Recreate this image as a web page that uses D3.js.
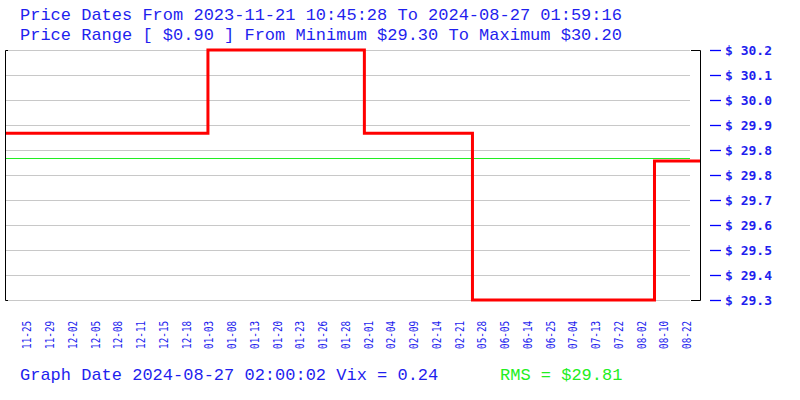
<!DOCTYPE html>
<html>
<head>
<meta charset="utf-8">
<script src="https://cdn.jsdelivr.net/npm/d3@7"></script>
<style>
  html, body { margin: 0; padding: 0; background: #ffffff; }
  svg { display: block; }
</style>
</head>
<body>
<svg id="chart" width="800" height="400"></svg>
<script>
// ---- data ----
const titleLine1 = "Price Dates From 2023-11-21 10:45:28 To 2024-08-27 01:59:16";
const titleLine2 = "Price Range [ $0.90 ] From Minimum $29.30 To Maximum $30.20";
const footerText = "Graph Date 2024-08-27 02:00:02 Vix = 0.24";
const rmsText = "RMS = $29.81";

const sampleCount = 123;
const xLabels = ["11-25","11-29","12-02","12-05","12-08","12-11","12-15","12-18","01-03","01-08",
                 "01-13","01-20","01-23","01-26","01-28","02-01","02-04","02-09","02-14","02-21",
                 "05-28","06-05","06-14","06-25","07-04","07-13","07-22","08-02","08-10","08-22"];
const xLabelIndex = [4,8,12,16,20,24,28,32,36,40,44,48,52,56,60,64,68,72,76,80,
                     84,88,92,96,100,104,108,112,116,120];

const stepIndex = [0, 35.5, 63, 82, 114, 122];
const stepPrice = [29.90, 30.20, 29.90, 29.30, 29.80, 29.80];

const priceMin = 29.30, priceMax = 30.20;
const rmsPrice = 29.81;
const yTickValues = [30.20, 30.11, 30.02, 29.93, 29.84, 29.75, 29.66, 29.57, 29.48, 29.39, 29.30];
const yTickLabels = ["30.2","30.1","30.0","29.9","29.8","29.8","29.7","29.6","29.5","29.4","29.3"];

// ---- layout ----
const svg = d3.select("#chart");
const pLeft = 6, pRight = 700, gridRight = 690, pTop = 50, pBottom = 300;

const x = d3.scaleLinear().domain([0, sampleCount - 1]).range([pLeft, pRight]);
const y = d3.scaleLinear().domain([priceMin, priceMax]).range([pBottom, pTop]);

const blue = "#1f1fee";
const green = "#22ee22";

// titles
svg.append("text").attr("x", 20).attr("y", 20).text(titleLine1)
  .attr("font-family", "Liberation Mono, monospace").attr("font-size", 17).attr("fill", blue);
svg.append("text").attr("x", 20).attr("y", 40).text(titleLine2)
  .attr("font-family", "Liberation Mono, monospace").attr("font-size", 17).attr("fill", blue);

// gridlines
svg.append("g").selectAll("line").data(yTickValues).join("line")
  .attr("x1", pLeft).attr("x2", gridRight)
  .attr("y1", d => Math.round(y(d)) + 0.5).attr("y2", d => Math.round(y(d)) + 0.5)
  .attr("stroke", "#c8c8c8").attr("stroke-width", 1);

// RMS line
svg.append("line")
  .attr("x1", pLeft).attr("x2", gridRight)
  .attr("y1", Math.round(y(rmsPrice)) + 0.5).attr("y2", Math.round(y(rmsPrice)) + 0.5)
  .attr("stroke", green).attr("stroke-width", 1);

// left axis
svg.append("path")
  .attr("d", `M${pLeft + 2},${pTop + 0.5}H${pLeft - 0.5}V${pBottom + 0.5}H${pLeft + 2}`)
  .attr("fill", "none").attr("stroke", "#000").attr("stroke-width", 1);
// right axis
svg.append("path")
  .attr("d", `M${gridRight + 1},${pTop + 0.5}H${pRight + 0.5}V${pBottom + 0.5}H${gridRight + 1}`)
  .attr("fill", "none").attr("stroke", "#000").attr("stroke-width", 1);

// price step line
const pts = stepIndex.map((d, i) => [d, stepPrice[i]]);
svg.append("path").datum(pts)
  .attr("d", d3.line().x(d => x(d[0])).y(d => y(d[1])).curve(d3.curveStepAfter))
  .attr("fill", "none").attr("stroke", "#ff0000").attr("stroke-width", 3)
  .attr("stroke-linejoin", "miter");

// right tick marks and labels
const yt = svg.append("g");
yt.selectAll("line").data(yTickValues).join("line")
  .attr("x1", 710).attr("x2", 721)
  .attr("y1", d => Math.round(y(d)) + 0.5).attr("y2", d => Math.round(y(d)) + 0.5)
  .attr("stroke", "#0000ff").attr("stroke-width", 1.3);
yt.selectAll("text").data(yTickValues).join("text")
  .attr("x", 725).attr("y", d => y(d)).attr("dy", "0.36em")
  .text((d, i) => "$ " + yTickLabels[i])
  .attr("font-family", "DejaVu Sans Mono, monospace").attr("font-weight", "bold")
  .attr("font-size", 13).attr("fill", blue);

// x labels (rotated, condensed)
const xt = svg.append("g");
xt.selectAll("text").data(xLabels).join("text")
  .attr("transform", (d, i) => `translate(${x(xLabelIndex[i]) - 2},349) rotate(-90) scale(0.75,1)`)
  .attr("x", 0).attr("y", 0)
  .attr("dy", "0.36em")
  .text(d => d)
  .attr("font-family", "DejaVu Sans Mono, monospace").attr("font-size", 12.5).attr("fill", blue);

// footer
svg.append("text").attr("x", 20).attr("y", 380).text(footerText)
  .attr("font-family", "Liberation Mono, monospace").attr("font-size", 17).attr("fill", blue);
svg.append("text").attr("x", 500).attr("y", 380).text(rmsText)
  .attr("font-family", "Liberation Mono, monospace").attr("font-size", 17).attr("fill", green);
</script>
</body>
</html>
